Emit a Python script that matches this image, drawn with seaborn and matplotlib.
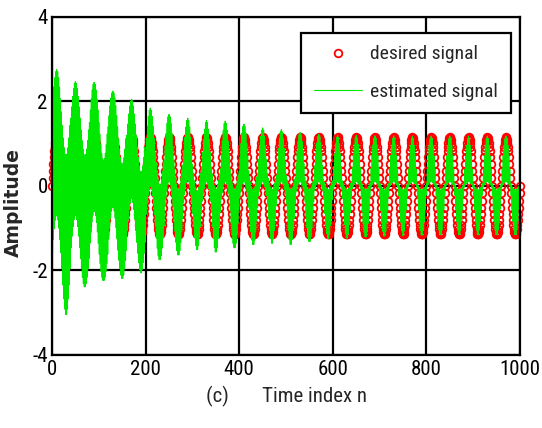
import matplotlib
matplotlib.use("Agg")
import matplotlib.pyplot as plt
from matplotlib import font_manager as fm
import numpy as np
import pandas as pd
import seaborn as sns

# values
period = 40            # samples per cycle of the desired sinusoid
amp = 1.15             # desired signal amplitude
n_max = 1000

# estimated signal, one value per cycle of the desired signal
est_peak_up = [2.75, 2.47, 2.45, 2.24, 2.05, 1.84, 1.69, 1.60, 1.55, 1.53,
               1.46, 1.37, 1.33, 1.26, 1.22, 1.20, 1.19, 1.18, 1.18, 1.17,
               1.17, 1.17, 1.17, 1.17, 1.17]
est_peak_dn = [-3.06, -2.40, -2.25, -2.20, -2.07, -1.76, -1.65, -1.52, -1.58, -1.48,
               -1.40, -1.37, -1.40, -1.33, -1.26, -1.25, -1.22, -1.20, -1.19, -1.18,
               -1.17, -1.17, -1.17, -1.17, -1.17]
# inner edge of the green band at a hump top
est_inner = [-0.7, -0.7, -0.6, -0.5, -0.3, 0.0, 0.1, 0.15, 0.1, 0.1,
             0.1, 0.1, 0.1, 0.1, 0.1, 0.1, 0.1, 0.1, 0.1, 0.1,
             0.1, 0.1, 0.1, 0.1, 0.1]
# half width of the green band at the zero crossings
est_cross = [1.75, 1.6, 1.5, 1.4, 1.2, 0.8, 0.6, 0.5, 0.45, 0.4,
             0.35, 0.3, 0.25, 0.2, 0.15, 0.12, 0.1, 0.08, 0.06, 0.05,
             0.05, 0.05, 0.05, 0.05, 0.05]

x_ticks = [0, 200, 400, 600, 800, 1000]
y_ticks = [-4, -2, 0, 2, 4]

n = np.arange(0, n_max + 1)
unit = np.sin(2 * np.pi * n / period)
desired = amp * unit

k = np.minimum(n // period, len(est_peak_up) - 1)
pos = (n % period) < period / 2
p_up = np.array(est_peak_up)[k]
p_dn = -np.array(est_peak_dn)[k]
inner = np.array(est_inner)[k]
c = np.array(est_cross)[k]
a = np.where(pos, p_up - c, inner + c)
b = np.where(pos, inner + c, p_dn - c)
estimated = np.where(n % 2 == 0, a * unit + c, b * unit - c)

df = pd.DataFrame({"n": n, "desired": desired, "estimated": estimated})

sns.set_style("white")
avail = {f.name for f in fm.fontManager.ttflist}
narrow = next((f for f in ["Liberation Sans Narrow", "Arial Narrow", "Roboto Condensed",
                           "PT Sans Narrow", "Archivo Narrow", "Asap Condensed"]
               if f in avail), "Liberation Sans")
plt.rcParams["font.family"] = [narrow, "Liberation Sans", "DejaVu Sans"]
plt.rcParams["axes.unicode_minus"] = False
plt.rcParams["path.simplify"] = False

fig = plt.figure(figsize=(5.42, 4.28), dpi=100)
ax = fig.add_axes([0.096, 0.171, 0.8635, 0.7897])

sns.lineplot(data=df, x="n", y="desired", ax=ax, estimator=None, sort=False,
             marker="o", linestyle="", markersize=5.5, markerfacecolor="none",
             markeredgecolor="#ff0000", markeredgewidth=1.3, color="#ff0000",
             clip_on=False, label="desired signal", zorder=3)
sns.lineplot(data=df, x="n", y="estimated", ax=ax, estimator=None, sort=False,
             color="#00e800", linewidth=0.8, label="estimated signal", zorder=4)

ax.set_xlim(0, n_max)
ax.set_ylim(-4, 4)
ax.set_xticks(x_ticks)
ax.set_yticks(y_ticks)
ax.grid(True, color="black", linewidth=1.6)
ax.set_axisbelow(True)
for sp in ax.spines.values():
    sp.set_color("black")
    sp.set_linewidth(1.6)
    sp.set_zorder(5)

ax.tick_params(length=0, labelsize=15, colors="black")
ax.tick_params(axis="x", pad=4)
ax.tick_params(axis="y", pad=3)

ax.set_xlabel("(c)       Time index n", fontsize=15, labelpad=5)
ax.set_ylabel("Amplitude", fontsize=13.5, fontweight="bold", family="DejaVu Sans")
ax.yaxis.set_label_coords(-0.062, 0.45)

leg = ax.legend(loc="upper right", bbox_to_anchor=(0.98, 0.953), borderaxespad=0,
                fontsize=14, frameon=True, fancybox=False, framealpha=1,
                edgecolor="black", handlelength=2.5, handletextpad=0.4,
                labelspacing=1.0, borderpad=0.65)
leg.get_frame().set_linewidth(1.6)
leg.set_zorder(10)

plt.savefig("out.png", dpi=100)
plt.close()
